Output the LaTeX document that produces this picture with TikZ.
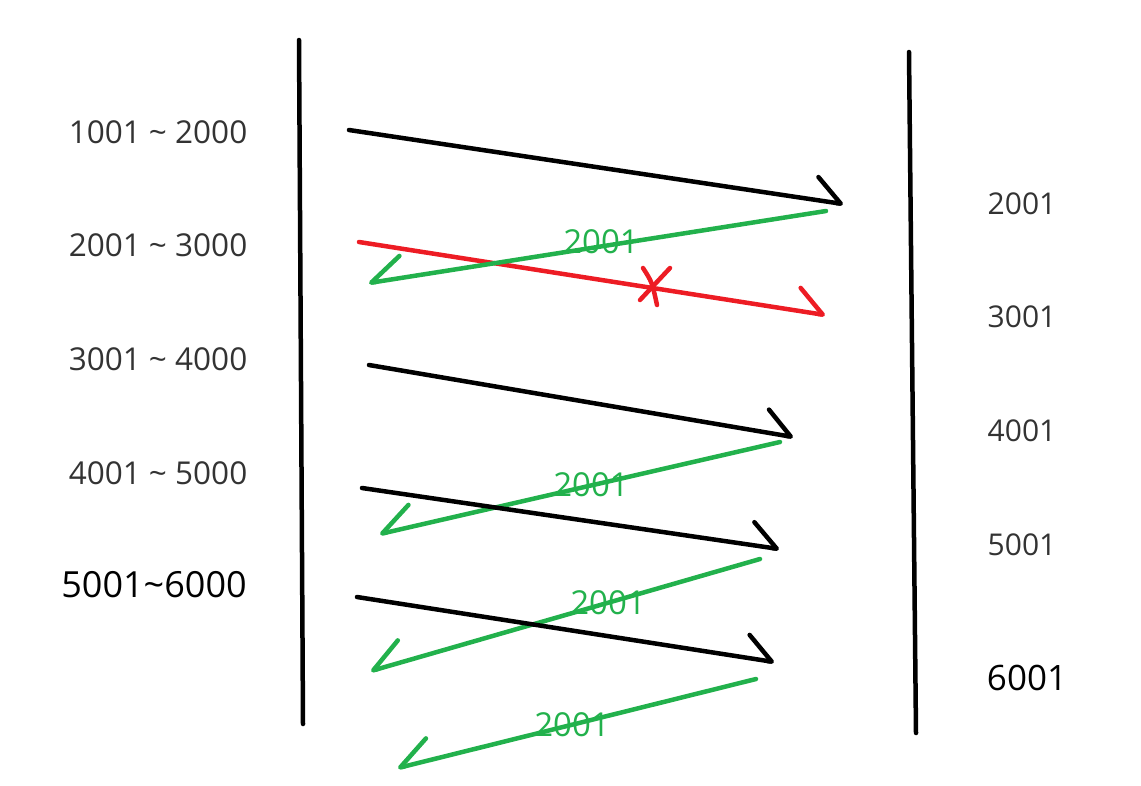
\documentclass[tikz,border=0pt]{standalone}
\usepackage{fontspec}
\setmainfont{Open Sans}
\usetikzlibrary{arrows.meta}
\definecolor{pengreen}{RGB}{34,177,76}
\definecolor{penred}{RGB}{237,28,36}
\definecolor{labgray}{RGB}{51,51,51}

\begin{document}
\begin{tikzpicture}
[
x=1pt,y=-1pt,
pen/.style={line width=4.5pt,line cap=round,line join=round},
fwd/.style={pen,-{Straight Barb[harpoon,length=26pt,width=46pt,round]}},
back/.style={pen,pengreen,-{Straight Barb[harpoon,swap,length=32pt,width=44pt,round]}},
rangelab/.style={text=labgray,font=\fontsize{31.5}{31.5}\selectfont},
boundlab/.style={text=labgray,font=\fontsize{30}{30}\selectfont},
acklab/.style={text=pengreen,font=\fontsize{33}{33}\selectfont},
]
\useasboundingbox (0,0) rectangle (1141,785);

%The two sides
\coordinate (lt) at (299,40);
\coordinate (lb) at (303,724);
\coordinate (rt) at (909,52);
\coordinate (rb) at (916,733);
\draw[pen] (lt) -- (lb);
\draw[pen] (rt) -- (rb);

%Labels on the left
\node[rangelab] (r1) at (158,132) {1001 \textasciitilde{} 2000};
\node[rangelab] (r2) at (158,245) {2001 \textasciitilde{} 3000};
\node[rangelab] (r3) at (158,359) {3001 \textasciitilde{} 4000};
\node[rangelab] (r4) at (158,473) {4001 \textasciitilde{} 5000};
\node[font=\fontsize{36}{36}\selectfont] (r5) at (154,585) {5001\textasciitilde6000};

%Labels on the right
\node[boundlab] (b2) at (1022,204) {2001};
\node[boundlab] (b3) at (1022,317) {3001};
\node[boundlab] (b4) at (1022,431) {4001};
\node[boundlab] (b5) at (1022,545) {5001};
\node[font=\fontsize{35}{35}\selectfont] (b6) at (1027,678) {6001};

%End points of the strokes
\coordinate (s1) at (349,130);  \coordinate (e1) at (843,204);
\coordinate (g1) at (826,211);  \coordinate (h1) at (369,283);
\coordinate (s2) at (359,242);  \coordinate (e2) at (825,315);
\coordinate (s3) at (369,365);  \coordinate (e3) at (793,437);
\coordinate (g2) at (780,442);  \coordinate (h2) at (380,534);
\coordinate (s4) at (362,488);  \coordinate (e4) at (779,549);
\coordinate (g3) at (760,559);  \coordinate (h3) at (371,671);
\coordinate (s5) at (357,597);  \coordinate (e5) at (774,662);
\coordinate (g4) at (756,679);  \coordinate (h4) at (398,768);

%Draw the strokes
\draw[fwd] (s1) -- (e1);
\draw[fwd,penred] (s2) -- (e2);
\draw[back] (g1) -- (h1);
\draw[fwd] (s3) -- (e3);
\draw[back] (g2) -- (h2);
\draw[fwd] (s4) -- (e4);
\draw[back] (g3) -- (h3);
\draw[fwd] (s5) -- (e5);
\draw[back] (g4) -- (h4);

%The lost one
\draw[pen,penred] (640,300) -- (670,268);
\draw[pen,penred] (643,268) .. controls (652,282) .. (657,305);

%Acks
\node[acklab] (a1) at (601,242) {2001};
\node[acklab] (a2) at (591,485) {2001};
\node[acklab] (a3) at (608,603) {2001};
\node[acklab] (a4) at (572,725) {2001};
\end{tikzpicture}
\end{document}
